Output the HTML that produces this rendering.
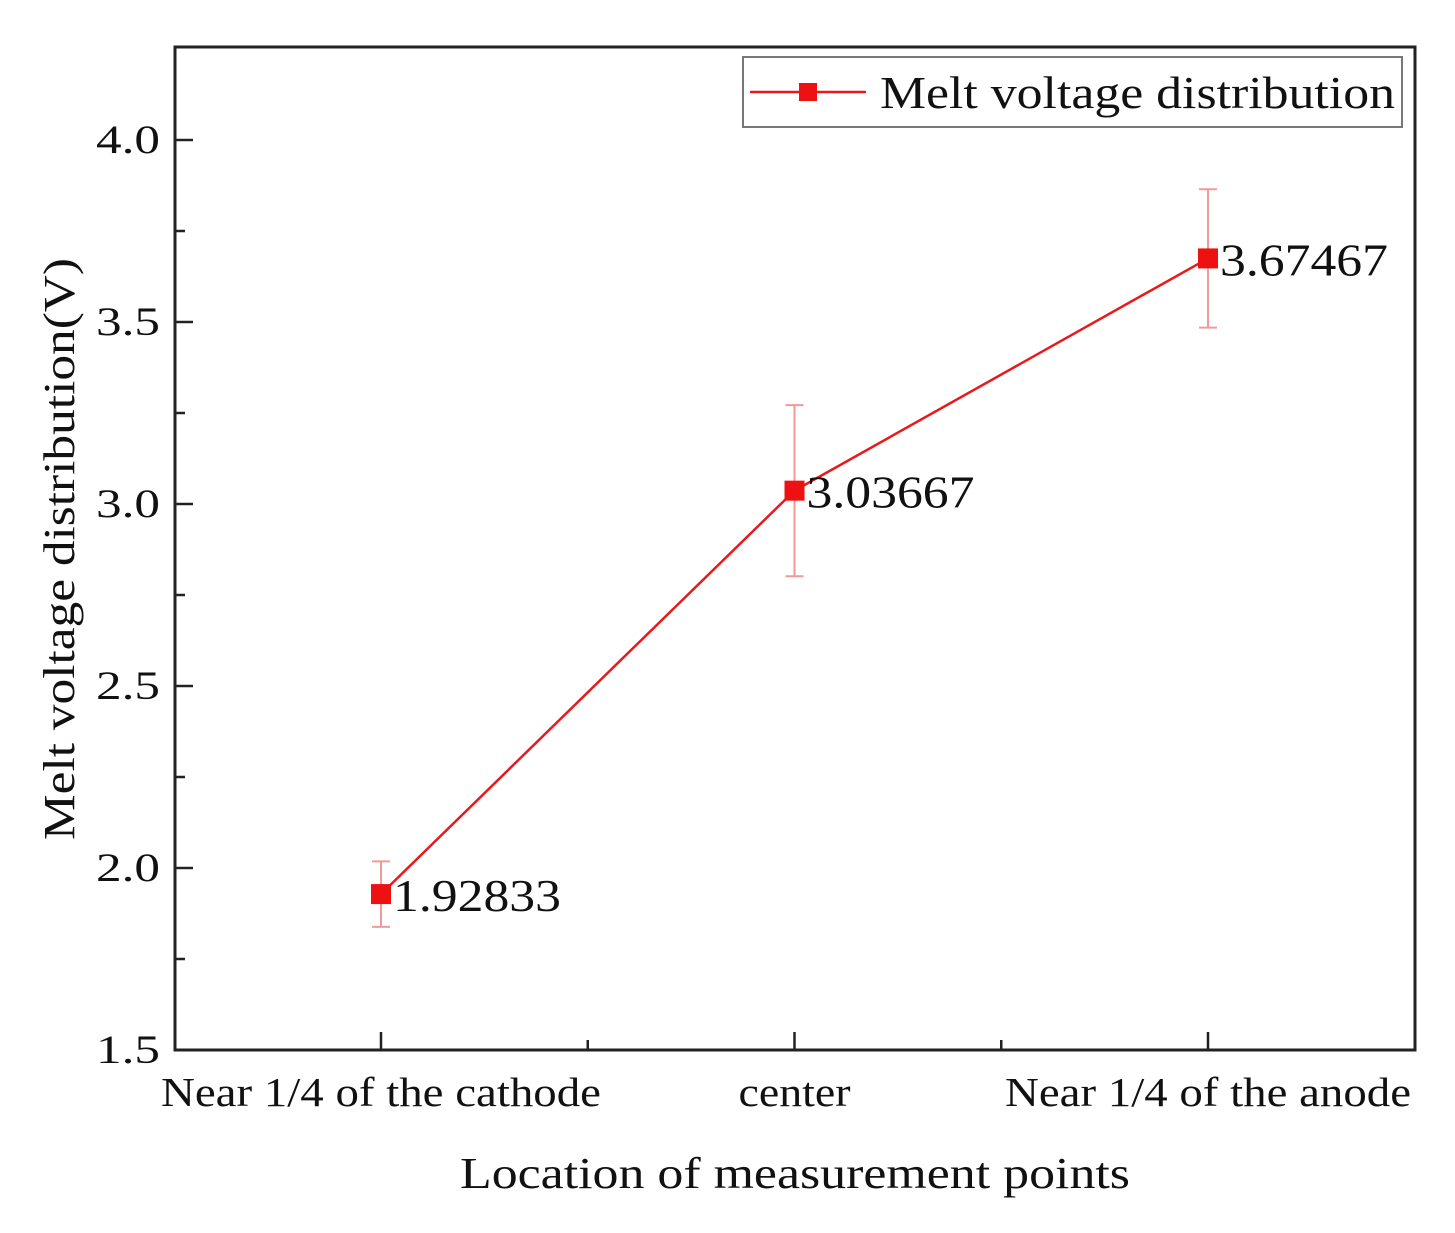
<!DOCTYPE html>
<html><head><meta charset="utf-8"><style>
html,body{margin:0;padding:0;background:#fff;}
svg{display:block;font-family:"Liberation Serif",serif;}
</style></head><body>
<svg id="chart" width="1455" height="1233" viewBox="0 0 1455 1233">
<g id="grid"></g>
<g id="marks"></g>
<g>
<rect x="743" y="57" width="659" height="70" fill="#fff" stroke="#777" stroke-width="2"/>
<line x1="750" y1="92" x2="866" y2="92" stroke="#e8191c" stroke-width="2.5"/>
<rect x="799" y="83" width="18" height="18" fill="#ee1111"/>
<text x="880" y="108" font-size="46" textLength="515" lengthAdjust="spacingAndGlyphs" fill="#111">Melt voltage distribution</text>
</g>
<text x="460" y="1188" font-size="44" textLength="670" lengthAdjust="spacingAndGlyphs" fill="#111">Location of measurement points</text>
<text transform="translate(74,840) rotate(-90)" font-size="44" textLength="582" lengthAdjust="spacingAndGlyphs" fill="#111">Melt voltage distribution(V)</text>
</svg>
<script>
const categories = ["Near 1/4 of the cathode", "center", "Near 1/4 of the anode"];
const values = [1.92833, 3.03667, 3.67467];
const errors = [0.09, 0.235, 0.19];
const valueLabels = ["1.92833", "3.03667", "3.67467"];
const yTicks = [1.5, 2.0, 2.5, 3.0, 3.5, 4.0];
const yTickLabels = ["1.5", "2.0", "2.5", "3.0", "3.5", "4.0"];

const L=175,R=1415,T=47,B=1050;
const yMin=1.5, yMax=1.5+(B-T)/364;
const y=v=>B-(v-yMin)/(yMax-yMin)*(B-T);
const x=i=>381+i*413.5;
const NS="http://www.w3.org/2000/svg";
function mk(tag,attrs,parent){const e=document.createElementNS(NS,tag);for(const k in attrs)e.setAttribute(k,attrs[k]);parent.appendChild(e);return e;}
const g=document.getElementById('grid'), m=document.getElementById('marks');
const frame=mk('rect',{x:L,y:T,width:R-L,height:B-T,fill:'none',stroke:'#222','stroke-width':3},g);


yTicks.forEach((v,i)=>{
  const t=mk('line',{x1:L,x2:L+18,y1:y(v),y2:y(v),stroke:'#222','stroke-width':2.5},g);
  
  
  if(i<yTicks.length-1){const mt=mk('line',{x1:L,x2:L+10,y1:y(v+0.25),y2:y(v+0.25),stroke:'#222','stroke-width':2.5},g);
  
  }
  const tx=mk('text',{x:L-15,y:y(v)+13,'font-size':40,'text-anchor':'end',textLength:64,lengthAdjust:'spacingAndGlyphs',fill:'#111'},g);
  tx.textContent=yTickLabels[i];
  
  
});
const xLabelWidths=[440,112,406];
categories.forEach((c,i)=>{
  const t=mk('line',{x1:x(i),x2:x(i),y1:B,y2:B-18,stroke:'#222','stroke-width':2.5},g);
  
  
  if(i<categories.length-1){const mt=mk('line',{x1:x(i+0.5),x2:x(i+0.5),y1:B,y2:B-10,stroke:'#222','stroke-width':2.5},g);
  
  }
  const tx=mk('text',{x:x(i),y:1106,'font-size':41,'text-anchor':'middle',textLength:xLabelWidths[i],lengthAdjust:'spacingAndGlyphs',fill:'#111'},g);
  tx.textContent=c;
  
  
});
const line=mk('polyline',{points:values.map((v,i)=>x(i)+','+y(v)).join(' '),fill:'none',stroke:'#e8191c','stroke-width':2.5},m);


values.forEach((v,i)=>{
  const eb=mk('g',{stroke:'#f09a9a','stroke-width':2},m);
  
  
  mk('line',{x1:x(i),x2:x(i),y1:y(v+errors[i]),y2:y(v-errors[i])},eb);
  mk('line',{x1:x(i)-9,x2:x(i)+9,y1:y(v+errors[i]),y2:y(v+errors[i])},eb);
  mk('line',{x1:x(i)-9,x2:x(i)+9,y1:y(v-errors[i]),y2:y(v-errors[i])},eb);
  const p=mk('rect',{x:x(i)-10,y:y(v)-10,width:20,height:20,fill:'#ee1111'},m);
  
  
  const lb=mk('text',{x:x(i)+12,y:y(v)+17,'font-size':46,textLength:168,lengthAdjust:'spacingAndGlyphs',fill:'#111'},m);
  lb.textContent=valueLabels[i];
  
  
});
</script>
</body></html>
